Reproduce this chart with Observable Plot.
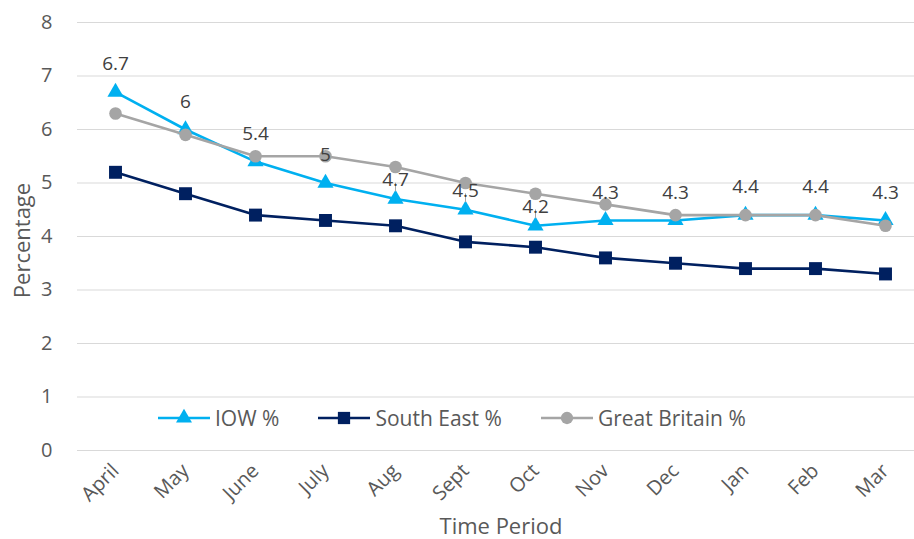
<!DOCTYPE html>
<html>
<head>
<meta charset="utf-8">
<script src="https://cdn.jsdelivr.net/npm/d3@7"></script>
<script src="https://cdn.jsdelivr.net/npm/@observablehq/plot@0.6"></script>
<style>
  html, body { margin: 0; padding: 0; background: #fff; }
  #wrap { position: relative; width: 914px; height: 539px; font-family: "Open Sans", sans-serif; }
  #legend { position: absolute; top: 404px; left: 157px; display: flex; align-items: center; font-size: 21px; color: #595959; white-space: nowrap; }
  #legend .item { display: flex; align-items: center; margin-right: 38px; }
  #legend svg { margin-right: 4px; }
</style>
</head>
<body>
<div id="wrap"></div>
<script>
const months = ["April","May","June","July","Aug","Sept","Oct","Nov","Dec","Jan","Feb","Mar"];
const iow = [6.7, 6.0, 5.4, 5.0, 4.7, 4.5, 4.2, 4.3, 4.3, 4.4, 4.4, 4.3];
const southEast = [5.2, 4.8, 4.4, 4.3, 4.2, 3.9, 3.8, 3.6, 3.5, 3.4, 3.4, 3.3];
const greatBritain = [6.3, 5.9, 5.5, 5.5, 5.3, 5.0, 4.8, 4.6, 4.4, 4.4, 4.4, 4.2];
const yTicks = [0, 1, 2, 3, 4, 5, 6, 7, 8];
const xTitle = "Time Period";
const yTitle = "Percentage";

const seriesDefs = [
  {name: "South East %", values: southEast, color: "#002060", symbol: "square", r: 7.3},
  {name: "IOW %", values: iow, color: "#00B0F0", symbol: "triangle", r: 6},
  {name: "Great Britain %", values: greatBritain, color: "#A5A5A5", symbol: "circle", r: 6.3}
];
const rows = seriesDefs.flatMap(s => months.map((m, i) => ({series: s.name, month: m, value: s.values[i], i})));
const iowRows = months.map((m, i) => ({month: m, value: iow[i], i}));
const closeIdx = new Set([4, 5, 6]);
const leaderShape = {draw(ctx, l) { ctx.moveTo(0, 0); ctx.lineTo(0, -l); }};

const marks = [
  Plot.gridY(yTicks, {stroke: "#D9D9D9", strokeOpacity: 1, strokeWidth: 1}),
  Plot.axisY(yTicks, {tickSize: 0, tickPadding: 25, tickFormat: "d", fontSize: 20, color: "#595959", label: null}),
  Plot.axisX({tickSize: 0, tickRotate: -45, tickPadding: 17, fontSize: 20, color: "#595959", label: null}),
  Plot.text([xTitle], {frameAnchor: "bottom", dx: 5, dy: 83, fontSize: 22, fill: "#595959", text: d => d}),
  Plot.text([yTitle], {frameAnchor: "left", textAnchor: "middle", dx: -55, dy: 4, rotate: -90, fontSize: 22, fill: "#595959", text: d => d})
];
for (const s of seriesDefs) {
  const d = rows.filter(r => r.series === s.name);
  marks.push(Plot.line(d, {x: "month", y: "value", stroke: s.color, strokeWidth: 2.6, curve: "linear"}));
  marks.push(Plot.dot(d, {x: "month", y: "value", fill: s.color, symbol: s.symbol, r: s.r, stroke: "none"}));
}
marks.push(Plot.vector(iowRows.filter(d => closeIdx.has(d.i)), {x: "month", y: "value", length: 8, anchor: "start", dy: -8, stroke: "#A5A5A5", strokeWidth: 1, shape: leaderShape}));
marks.push(Plot.text(iowRows.filter(d => !closeIdx.has(d.i)), {x: "month", y: "value", text: d => String(d.value), dy: -28, fontSize: 19, fill: "#404040"}));
marks.push(Plot.text(iowRows.filter(d => closeIdx.has(d.i)), {x: "month", y: "value", text: d => String(d.value), dy: -19, fontSize: 19, fill: "#404040"}));

const chart = Plot.plot({
  width: 914,
  height: 539,
  marginLeft: 77,
  marginRight: 0,
  marginTop: 22,
  marginBottom: 89,
  style: {fontFamily: "'Open Sans', sans-serif", background: "#fff", overflow: "visible"},
  x: {type: "point", domain: months, range: [112, 887], padding: 0},
  y: {domain: [0, 8]},
  marks
});

const wrap = document.getElementById("wrap");
wrap.appendChild(chart);

const legend = document.createElement("div");
legend.id = "legend";
const symPath = {
  triangle: d3.symbol(d3.symbolTriangle, 110)(),
  square: d3.symbol(d3.symbolSquare, 150)(),
  circle: d3.symbol(d3.symbolCircle, 120)()
};
for (const s of [seriesDefs[1], seriesDefs[0], seriesDefs[2]]) {
  const item = document.createElement("div");
  item.className = "item";
  item.innerHTML = `<svg width="54" height="20"><line x1="1" x2="53" y1="10" y2="10" stroke="${s.color}" stroke-width="2.6"/><path transform="translate(27,10)" d="${symPath[s.symbol]}" fill="${s.color}"/></svg><span>${s.name}</span>`;
  legend.appendChild(item);
}
wrap.appendChild(legend);
</script>
</body>
</html>
